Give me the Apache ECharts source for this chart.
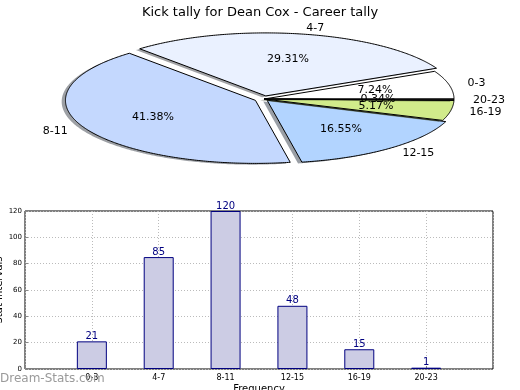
<!DOCTYPE html>
<html>
<head>
<meta charset="utf-8">
<script src="https://cdn.jsdelivr.net/npm/echarts@6/dist/echarts.min.js"></script>
<style>
html,body{margin:0;padding:0;background:#fff;}
#c{width:520px;height:390px;}
</style>
</head>
<body>
<div id="c"></div>
<script>
// ---- data ----
const categories = ['0-3', '4-7', '8-11', '12-15', '16-19', '20-23'];
const values = [21, 85, 120, 48, 15, 1];
const yTicks = [0, 20, 40, 60, 80, 100, 120];
const titleText = 'Kick tally for Dean Cox - Career tally';
const xName = 'Frequency';
const yName = 'Stat Intervals';

// ---- styles ----
const sliceColors = ['#ffffff', '#eaf1ff', '#c4d8fe', '#b2d4ff', '#d1eb8b', '#222222'];
const explode = [0, 0.05, 0.05, 0.025, 0, 0];
const PIE = {cx: 264, cy: 99, rx: 190, ry: 63};
const FONT = 'DejaVu Sans';

const total = values.reduce((a, b) => a + b, 0);
let cum = 0;
const pieData = values.map((v, i) => {
  const d = {name: categories[i], value: [v, cum]};
  cum += v;
  return d;
});

function hexToRgb(h) {
  const n = parseInt(h.slice(1), 16);
  return [(n >> 16) & 255, (n >> 8) & 255, n & 255];
}

function pieItem(params, api) {
  const i = params.dataIndex;
  const v = api.value(0), start = api.value(1);
  const a0 = start / total * 2 * Math.PI;
  const a1 = (start + v) / total * 2 * Math.PI;
  const mid = (a0 + a1) / 2;
  const e = explode[i];
  const cx = PIE.cx + e * PIE.rx * Math.cos(mid);
  const cy = PIE.cy - e * PIE.ry * Math.sin(mid);
  const pts = [[cx, cy]];
  const n = Math.max(2, Math.ceil((a1 - a0) / 0.01));
  for (let k = 0; k <= n; k++) {
    const a = a0 + (a1 - a0) * k / n;
    pts.push([cx + PIE.rx * Math.cos(a), cy - PIE.ry * Math.sin(a)]);
  }
  const sx = -0.02 * PIE.rx, sy = 0.02 * PIE.ry;
  const spts = pts.map(p => [p[0] + sx, p[1] + sy]);
  const rgb = hexToRgb(sliceColors[i]).map(c => Math.round(c * 0.3));
  const cosm = Math.cos(mid), sinm = Math.sin(mid);
  const lx = cx + 1.1 * PIE.rx * cosm, ly = cy - 1.1 * PIE.ry * sinm;
  const px = cx + 0.6 * PIE.rx * cosm, py = cy - 0.6 * PIE.ry * sinm;
  const pct = (v / total * 100).toFixed(2) + '%';
  return {
    type: 'group',
    children: [
      {type: 'polygon', shape: {points: spts},
       style: {fill: 'rgba(' + rgb.join(',') + ',0.5)', stroke: null}},
      {type: 'polygon', shape: {points: pts},
       style: {fill: sliceColors[i], stroke: '#000', lineWidth: 1}},
      {type: 'text', z2: 20, x: lx, y: ly,
       style: {text: categories[i], fill: '#000', font: '11px "' + FONT + '"',
               align: cosm > 0 ? 'left' : 'right', verticalAlign: 'middle'}},
      {type: 'text', z2: 20, x: px, y: py,
       style: {text: pct, fill: '#000', font: '11px "' + FONT + '"',
               align: 'center', verticalAlign: 'middle'}}
    ]
  };
}

const chart = echarts.init(document.getElementById('c'), null, {renderer: 'canvas'});
chart.setOption({
  animation: false,
  backgroundColor: '#fff',
  textStyle: {fontFamily: FONT},
  title: {
    text: titleText, left: 'center', top: 1,
    textStyle: {fontFamily: FONT, fontSize: 13, fontWeight: 'normal', color: '#000'}
  },
  graphic: [
    {
      type: 'text', left: 0, top: 373, z: 100,
      style: {text: 'Dream-Stats.com', fill: '#9a9a9a', font: '12px "' + FONT + '"'}
    },
    {
      type: 'text', x: -1, y: 290, rotation: Math.PI / 2, z: 100,
      style: {text: yName, fill: '#000', font: '10px "' + FONT + '"',
              align: 'center', verticalAlign: 'middle'}
    }
  ],
  grid: {left: 25, top: 211, right: 27, bottom: 21, show: true,
         outerBoundsMode: 'none', containLabel: false,
         borderColor: '#000', borderWidth: 1, backgroundColor: 'transparent'},
  xAxis: {
    type: 'value', min: 0, max: categories.length + 1, interval: 1,
    name: xName, nameLocation: 'middle', nameGap: 15, nameMoveOverlap: false,
    nameTextStyle: {fontFamily: FONT, fontSize: 10, color: '#000'},
    axisLine: {show: false},
    axisTick: {show: true, inside: true, length: 3, lineStyle: {color: '#888'}},
    axisLabel: {
      fontFamily: FONT, fontSize: 8, color: '#000', margin: 5,
      formatter: v => categories[v - 1] || ''
    },
    splitLine: {show: true, lineStyle: {color: '#bbbbbb', type: [1, 2], width: 1}}
  },
  yAxis: {
    type: 'value', min: yTicks[0], max: yTicks[yTicks.length - 1], interval: yTicks[1] - yTicks[0],
    axisLine: {show: false},
    axisTick: {show: true, inside: true, length: 3, lineStyle: {color: '#888'}},
    axisLabel: {fontFamily: FONT, fontSize: 7, color: '#000', margin: 3},
    splitLine: {show: true, lineStyle: {color: '#bbbbbb', type: [1, 2], width: 1}}
  },
  series: [
    {
      type: 'custom', coordinateSystem: 'none',
      renderItem: pieItem, data: pieData, silent: true
    },
    {
      type: 'bar', barWidth: 30,
      data: values.map((v, i) => [i + 1, v]),
      itemStyle: {color: '#ccccE4', borderColor: '#000080', borderWidth: 1},
      label: {show: true, position: 'top', distance: 0, color: '#000080',
              fontFamily: FONT, fontSize: 10}
    }
  ]
});
</script>
</body>
</html>
